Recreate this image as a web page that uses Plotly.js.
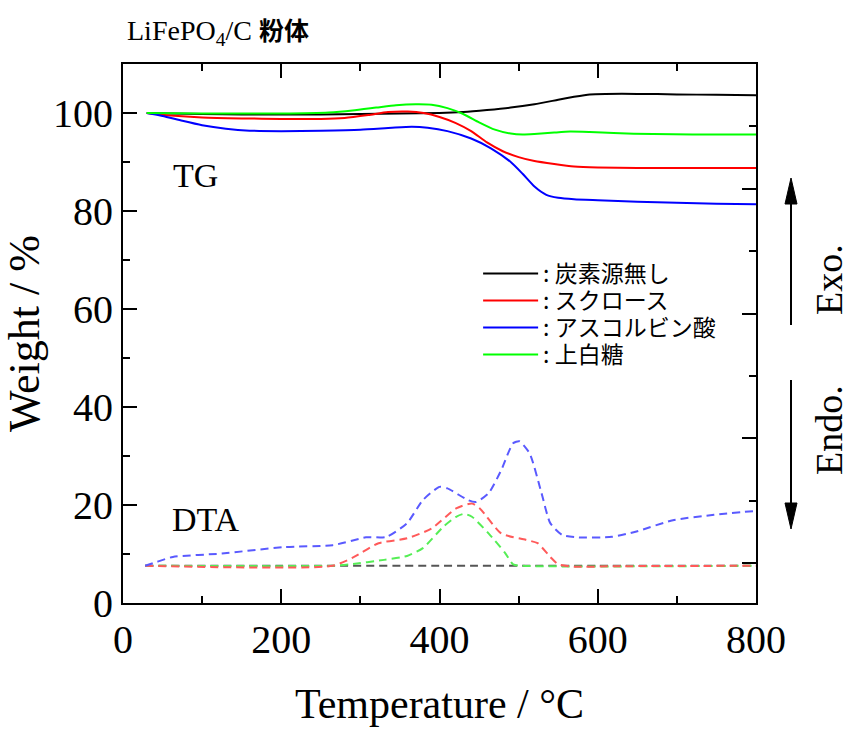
<!DOCTYPE html>
<html>
<head>
<meta charset="utf-8">
<script src="https://cdn.plot.ly/plotly-3.0.1.min.js"></script>
<style>html,body{margin:0;padding:0;background:#fff;}#chart{width:851px;height:731px;}</style>
</head>
<body>
<div id="chart"></div>
<script>
// ---- Data (Temperature in °C, values in Weight %) ----
const seriesNames = [': 炭素源無し', ': スクロース', ': アスコルビン酸', ': 上白糖'];

// TG curves
const tgBlackT = [30, 60, 100, 150, 200, 250, 300, 350, 400, 430, 460, 490, 520, 550, 570, 590, 610, 650, 700, 750, 800];
const tgBlackW = [100, 99.9, 99.8, 99.7, 99.7, 99.7, 99.8, 99.9, 100, 100.2, 100.6, 101.1, 101.8, 102.7, 103.3, 103.8, 103.9, 103.9, 103.8, 103.7, 103.6];

const tgRedT = [30, 60, 100, 150, 200, 250, 280, 310, 335, 360, 380, 400, 420, 440, 460, 480, 500, 520, 545, 570, 600, 650, 700, 800];
const tgRedW = [100, 99.5, 99.1, 98.9, 98.8, 98.8, 99.0, 99.6, 100.2, 100.3, 100.0, 99.2, 98.0, 96.3, 94.0, 92.2, 91.0, 90.2, 89.6, 89.1, 88.9, 88.8, 88.8, 88.8];

const tgBlueT = [30, 50, 75, 100, 130, 160, 200, 250, 300, 340, 365, 385, 410, 440, 465, 490, 505, 520, 535, 550, 570, 600, 650, 700, 750, 800];
const tgBlueW = [100, 99.4, 98.4, 97.5, 96.8, 96.4, 96.3, 96.4, 96.6, 97.0, 97.2, 97.0, 96.3, 94.8, 92.8, 90.0, 87.6, 85.0, 83.3, 82.7, 82.4, 82.2, 81.9, 81.7, 81.5, 81.4];

const tgGreenT = [30, 100, 200, 260, 290, 320, 345, 370, 390, 410, 430, 450, 470, 490, 505, 520, 545, 565, 590, 620, 670, 720, 800];
const tgGreenW = [100, 99.9, 99.9, 100.1, 100.5, 101.1, 101.6, 101.8, 101.7, 101.0, 99.8, 98.1, 96.6, 95.8, 95.6, 95.7, 96.0, 96.2, 96.1, 95.9, 95.7, 95.6, 95.6];

// DTA curves (drawn on the same scale)
const dtaBlackT = [28, 200, 400, 600, 800];
const dtaBlackW = [7.6, 7.6, 7.6, 7.6, 7.6];

const dtaRedT = [28, 265, 292, 323, 359, 390, 421, 441, 451, 478, 509, 524, 540, 550, 570, 620, 800];
const dtaRedW = [7.6, 7.6, 9.4, 12.2, 13.2, 15.2, 19.3, 20.3, 19.3, 14.2, 12.9, 12.2, 9.4, 7.9, 7.4, 7.5, 7.6];

const dtaBlueT = [28, 43, 63, 125, 203, 265, 307, 333, 359, 379, 400, 410, 436, 446, 462, 478, 493, 501, 514, 529, 540, 555, 575, 618, 649, 695, 747, 800];
const dtaBlueW = [7.6, 8.4, 9.4, 10.1, 11.4, 11.8, 13.4, 13.5, 16.3, 21.0, 23.7, 23.4, 21.0, 20.6, 22.4, 27.1, 32.6, 33.0, 30.5, 22.4, 16.3, 13.9, 13.4, 13.5, 14.6, 16.9, 18.0, 18.8];

const dtaGreenT = [28, 265, 287, 330, 359, 379, 405, 421, 431, 441, 462, 483, 493, 503, 800];
const dtaGreenW = [7.6, 7.6, 7.9, 8.8, 9.6, 11.2, 15.6, 17.6, 18.2, 17.6, 14.2, 10.2, 7.9, 7.6, 7.6];

const xTicks = [0, 200, 400, 600, 800];
const yTicks = [0, 20, 40, 60, 80, 100];

// ---- Styling ----
const serif = 'Liberation Serif, Times New Roman, serif';
const cjk = 'Noto Sans CJK JP, sans-serif';
const tgColors = ['#000000', '#ff0000', '#0000ff', '#00ff00'];
const dtaColors = ['#555555', '#ff5a5a', '#5a5aff', '#55ee55'];
const legendIds = ['legend', 'legend2', 'legend3', 'legend4'];

function tg(x, y, i) {
  return {x: x, y: y, type: 'scatter', mode: 'lines', name: seriesNames[i], legend: legendIds[i],
    line: {color: tgColors[i], width: 2, shape: 'spline', smoothing: 0.6}, hoverinfo: 'skip'};
}
function dta(x, y, i) {
  return {x: x, y: y, type: 'scatter', mode: 'lines', showlegend: false,
    line: {color: dtaColors[i], width: 2, dash: '8px,5px', shape: 'spline', smoothing: 0.6}, hoverinfo: 'skip'};
}

const data = [
  dta(dtaBlackT, dtaBlackW, 0),
  dta(dtaGreenT, dtaGreenW, 3),
  dta(dtaRedT, dtaRedW, 1),
  dta(dtaBlueT, dtaBlueW, 2),
  tg(tgBlackT, tgBlackW, 0),
  tg(tgRedT, tgRedW, 1),
  tg(tgBlueT, tgBlueW, 2),
  tg(tgGreenT, tgGreenW, 3),
  {x: [null], y: [null], yaxis: 'y2', type: 'scatter', mode: 'lines', showlegend: false, hoverinfo: 'skip'}
];

const axisCommon = {
  showline: true, linecolor: '#000', linewidth: 2,
  ticks: 'inside', ticklen: 14, tickwidth: 2, tickcolor: '#000',
  showgrid: false, zeroline: false,
  tickfont: {family: serif, size: 40, color: '#000'}
};

function legendAt(py) {
  return {x: 0.561, y: (603 - py) / 539, xanchor: 'left', yanchor: 'top',
    font: {family: cjk, size: 23, color: '#000'}, itemwidth: 55,
    bgcolor: 'rgba(0,0,0,0)', borderwidth: 0};
}

// paper-coordinate helpers for the Exo./Endo. arrows (decoration, not data)
const px = v => (v - 123) / 633;
const py = v => (603 - v) / 539;

const layout = {
  width: 851, height: 731,
  margin: {l: 123, r: 95, t: 64, b: 128},
  paper_bgcolor: '#fff', plot_bgcolor: '#fff',
  showlegend: true,
  legend: legendAt(252),
  legend2: legendAt(279),
  legend3: legendAt(306),
  legend4: legendAt(333),
  xaxis: Object.assign({}, axisCommon, {
    range: [0, 800], tickvals: xTicks, mirror: 'ticks',
    minor: {dtick: 100, ticks: 'inside', ticklen: 7, tickwidth: 2, tickcolor: '#000', showgrid: false},
    title: {text: 'Temperature / °C', font: {family: serif, size: 42, color: '#000'}, standoff: 28}
  }),
  yaxis: Object.assign({}, axisCommon, {
    range: [0, 110], tickvals: yTicks, mirror: false,
    minor: {dtick: 10, ticks: 'inside', ticklen: 7, tickwidth: 2, tickcolor: '#000', showgrid: false},
    title: {text: 'Weight / %', font: {family: serif, size: 44, color: '#000'}, standoff: 0}
  }),
  yaxis2: {
    overlaying: 'y', side: 'right', range: [-0.32, 4], dtick: 1, tick0: 0,
    showline: true, linecolor: '#000', linewidth: 2,
    ticks: 'inside', ticklen: 14, tickwidth: 2, tickcolor: '#000',
    minor: {dtick: 0.5, ticks: 'inside', ticklen: 7, tickwidth: 2, tickcolor: '#000', showgrid: false},
    showticklabels: false, showgrid: false, zeroline: false
  },
  shapes: [
    {type: 'line', xref: 'paper', yref: 'paper', x0: px(791), x1: px(791), y0: py(200), y1: py(325),
      line: {color: '#000', width: 2}},
    {type: 'path', xref: 'paper', yref: 'paper',
      path: `M ${px(791)},${py(178)} L ${px(785)},${py(204)} L ${px(797)},${py(204)} Z`,
      fillcolor: '#000', line: {color: '#000', width: 1}},
    {type: 'line', xref: 'paper', yref: 'paper', x0: px(791), x1: px(791), y0: py(380), y1: py(505),
      line: {color: '#000', width: 2}},
    {type: 'path', xref: 'paper', yref: 'paper',
      path: `M ${px(791)},${py(529)} L ${px(785)},${py(503)} L ${px(797)},${py(503)} Z`,
      fillcolor: '#000', line: {color: '#000', width: 1}}
  ],
  annotations: [
    {xref: 'x', yref: 'y', x: 92, y: 87.3, text: 'TG', showarrow: false,
      font: {family: serif, size: 34, color: '#000'}},
    {xref: 'x', yref: 'y', x: 105, y: 17.1, text: 'DTA', showarrow: false,
      font: {family: serif, size: 34, color: '#000'}},
    {xref: 'paper', yref: 'paper', x: 0.003, y: 1.063, xanchor: 'left', yanchor: 'middle',
      text: '<span style="font-family:Liberation Serif">LiFePO<sub>4</sub>/C</span> <b><span style="font-family:Noto Sans CJK JP;font-size:25px">粉体</span></b>',
      showarrow: false, font: {family: serif, size: 28, color: '#000'}},
    {xref: 'paper', yref: 'paper', x: px(829), y: py(279), xanchor: 'center', yanchor: 'middle',
      text: 'Exo.', textangle: -90, showarrow: false,
      font: {family: serif, size: 38, color: '#000'}},
    {xref: 'paper', yref: 'paper', x: px(829), y: py(430), xanchor: 'center', yanchor: 'middle',
      text: 'Endo.', textangle: -90, showarrow: false,
      font: {family: serif, size: 38, color: '#000'}}
  ]
};

Plotly.newPlot('chart', data, layout, {displayModeBar: false, staticPlot: true});
</script>
</body>
</html>
